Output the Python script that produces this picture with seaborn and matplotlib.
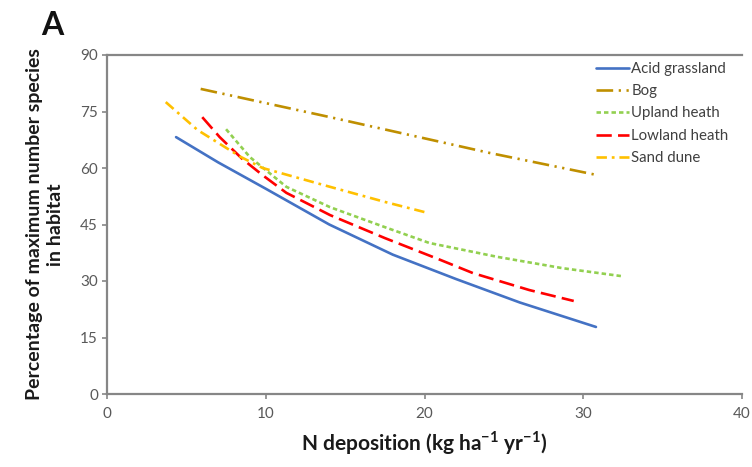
import matplotlib
matplotlib.use("Agg")
import matplotlib.pyplot as plt
import seaborn as sns

# Species richness vs. nitrogen deposition, by habitat
acid_x = [4.35, 7.0, 10.0, 14.0, 18.0, 22.0, 26.0, 30.8]
acid_y = [68.2, 61.5, 54.5, 45.0, 37.0, 30.5, 24.3, 17.8]

bog_x = [5.9, 14.05, 24.1, 30.9]
bog_y = [81.0, 73.5, 64.0, 58.1]

upland_x = [7.5, 9.0, 11.3, 14.05, 17.5, 20.3, 24.6, 28.7, 32.4]
upland_y = [70.3, 62.9, 55.0, 49.6, 44.3, 40.1, 36.4, 33.4, 31.3]

lowland_x = [6.0, 7.1, 8.5, 9.8, 11.3, 14.05, 17.5, 21.0, 23.05, 26.6, 29.4]
lowland_y = [73.5, 68.2, 62.5, 58.1, 53.4, 47.5, 41.4, 35.6, 32.1, 27.6, 24.7]

dune_x = [3.7, 5.7, 8.4, 9.8, 14.05, 17.5, 20.0]
dune_y = [77.5, 70.1, 63.0, 60.0, 55.0, 51.0, 48.3]

x_ticks = [0, 10, 20, 30, 40]
y_ticks = [0, 15, 30, 45, 60, 75, 90]

sns.set_theme(style="white")
plt.rcParams["font.family"] = ["Lato", "DejaVu Sans"]
plt.rcParams["lines.scale_dashes"] = False

fig = plt.figure(figsize=(7.52, 4.67), dpi=100)
ax = fig.add_axes([107 / 752, 1 - 394 / 467, (742 - 107) / 752, (394 - 55) / 467])

series = [
    ("Acid grassland", acid_x, acid_y, "#4472C4", None),
    ("Bog", bog_x, bog_y, "#BF8F00", [12, 4, 1.6, 4, 1.6, 4]),
    ("Upland heath", upland_x, upland_y, "#92D050", [3.2, 2.2]),
    ("Lowland heath", lowland_x, lowland_y, "#FF0000", [11, 4.5]),
    ("Sand dune", dune_x, dune_y, "#FFC000", [7.5, 3.5, 2, 3.5]),
]

for name, xs, ys, col, dash in series:
    sns.lineplot(x=xs, y=ys, ax=ax, color=col, linewidth=1.9, label=name,
                 sort=False, estimator=None)
    line = ax.lines[-1]
    if dash is not None:
        line.set_dashes(dash)

ax.set_xlim(0, 40)
ax.set_ylim(0, 90)
ax.set_xticks(x_ticks)
ax.set_yticks(y_ticks)

axis_col = "#868686"
for side in ["left", "bottom", "top"]:
    ax.spines[side].set_visible(True)
    ax.spines[side].set_color(axis_col)
    ax.spines[side].set_linewidth(1.6)
ax.spines["right"].set_visible(False)

ax.tick_params(axis="both", which="major", direction="out", length=3.5,
               width=1.2, color=axis_col, labelsize=11, labelcolor="#595959",
               left=True, bottom=True, pad=3)
ax.tick_params(axis="x", pad=6)

ax.set_xlabel("N deposition (kg ha$^{\\mathregular{-1}}$ yr$^{\\mathregular{-1}}$)",
              fontsize=15, fontweight="bold", color="#1a1a1a", labelpad=6)
ax.set_ylabel("Percentage of maximum number species\nin habitat",
              fontsize=14, fontweight="bold", color="#1a1a1a", labelpad=12,
              linespacing=1.25)

fig.text(41 / 752, 1 - 11 / 467, "A", fontsize=23, fontweight="bold",
         color="#111111", ha="left", va="top")

leg = ax.legend(loc="upper left", bbox_to_anchor=(596 / 752, 1 - 62 / 467),
                bbox_transform=fig.transFigure, frameon=False, fontsize=10.8,
                handlelength=2.2, handletextpad=0.15, labelspacing=0.55,
                borderpad=0, borderaxespad=0)
for t in leg.get_texts():
    t.set_color("#404040")

fig.savefig("out.png", dpi=100)
